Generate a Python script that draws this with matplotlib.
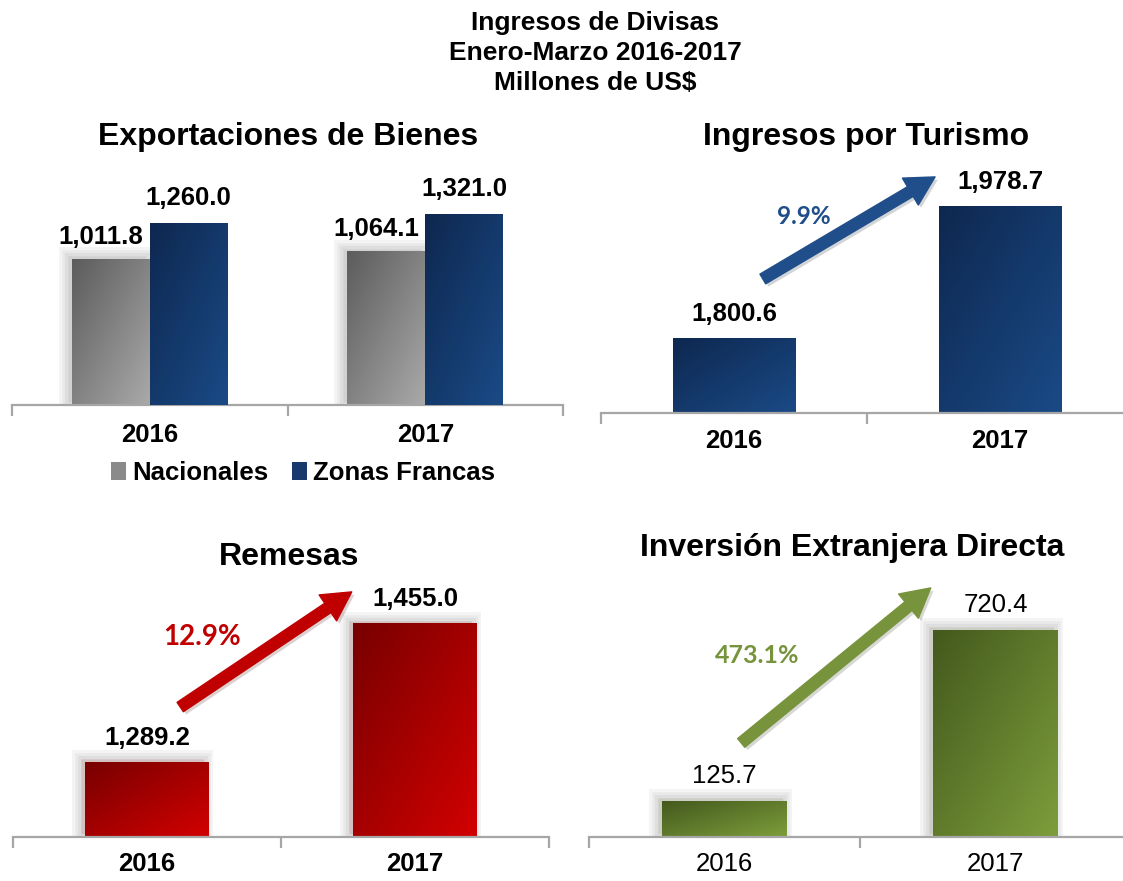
import numpy as np
import matplotlib
matplotlib.use("Agg")
import matplotlib.pyplot as plt
import matplotlib.patheffects as pe
from matplotlib.colors import LinearSegmentedColormap
from matplotlib.patches import Patch

plt.rcParams['font.family'] = ['Liberation Sans', 'DejaVu Sans']

# ---- data ----
years = ['2016', '2017']
export_nacionales = [1011.8, 1064.1]
export_zonas_francas = [1260.0, 1321.0]
turismo = [1800.6, 1978.7]
remesas = [1289.2, 1455.0]
ied = [125.7, 720.4]
pct_turismo = '9.9%'
pct_remesas = '12.9%'
pct_ied = '473.1%'

W, H = 1123, 881
fig = plt.figure(figsize=(W / 100, H / 100), dpi=100)


def place(left, right, baseline, height):
    # axes placed by pixel positions
    return fig.add_axes([left / W, 1 - baseline / H, (right - left) / W, height / H])


def gradient_fill(ax, bars, c0, c1):
    cmap = LinearSegmentedColormap.from_list('g', [c0, c1])
    xx, yy = np.meshgrid(np.linspace(0, 1, 64), np.linspace(0, 1, 64))
    grad = (xx + yy) / 2.0  # row 0 at top -> dark top-left
    for b in bars:
        x0, y0 = b.get_x(), b.get_y()
        im = ax.imshow(grad, cmap=cmap, extent=[x0, x0 + b.get_width(), y0, y0 + b.get_height()],
                       origin='upper', aspect='auto', zorder=b.get_zorder() + 0.1, interpolation='bilinear')
        im.set_clip_path(b)


def glow():
    effs = [pe.Stroke(offset=(-3, 2), linewidth=lw, foreground='black', alpha=0.045) for lw in (13, 9, 5)]
    return effs + [pe.Normal()]


def style_axis(ax, xmax, ticks, pad, weight):
    for s in ('top', 'left', 'right'):
        ax.spines[s].set_visible(False)
    ax.spines['bottom'].set_color('#A6A6A6')
    ax.spines['bottom'].set_linewidth(1.6)
    ax.set_yticks([])
    ax.set_xlim(-0.5, xmax)
    ax.set_xticks(range(len(years)))
    ax.set_xticklabels(years, fontsize=18.5, fontweight=weight)
    ax.tick_params(axis='x', which='major', length=0, pad=pad)
    ax.set_xticks(ticks, minor=True)
    ax.tick_params(axis='x', which='minor', length=8, width=1.6, color='#A6A6A6')
    ax.patch.set_alpha(0)


def labels(ax, bars, vals, weight='bold', dx=0, dy=24):
    for b, v in zip(bars, vals):
        ax.annotate(f'{v:,.1f}', (b.get_x() + b.get_width() / 2, b.get_height() + b.get_y()),
                    xytext=(dx, dy), textcoords='offset pixels', ha='center', va='center',
                    fontsize=18.5, fontweight=weight, annotation_clip=False)


def arrow(ax, start, end, color, text, tpos, tsize):
    ax.annotate('', xy=end, xytext=start, xycoords='axes fraction', textcoords='axes fraction',
                arrowprops=dict(arrowstyle='simple,head_width=1.25,head_length=1.15,tail_width=0.45',
                                mutation_scale=18, color=color, shrinkA=0, shrinkB=0,
                                path_effects=[pe.SimplePatchShadow(offset=(2, -2), alpha=0.18), pe.Normal()]),
                annotation_clip=False)
    ax.text(tpos[0], tpos[1], text, transform=ax.transAxes, ha='center', va='center',
            fontsize=tsize, fontweight='bold', color=color, family=['Lato', 'DejaVu Sans'])


x = np.arange(len(years))

# ---- Exportaciones de Bienes ----
ax1 = place(12, 563, 405, 245.5)
ax1.set_ylim(0, 1700)
bw = 0.283
b_nac = ax1.bar(x - bw / 2, export_nacionales, bw, color='#8C8C8C', zorder=2)
b_zf = ax1.bar(x + bw / 2, export_zonas_francas, bw, color='#17396B', zorder=3)
for b in b_nac:
    b.set_path_effects(glow())
gradient_fill(ax1, b_nac, '#5C5C5C', '#A9A9A9')
gradient_fill(ax1, b_zf, '#0E2850', '#1A4A86')
labels(ax1, b_nac, export_nacionales, dx=-10, dy=22)
labels(ax1, b_zf, export_zonas_francas, dy=25)
style_axis(ax1, 1.5, [-0.5, 0.5, 1.5], 13, 'bold')
handles = [Patch(facecolor='#8A8A8A', label='Nacionales'), Patch(facecolor='#17396B', label='Zonas Francas')]
fig.legend(handles=handles, loc='center', bbox_to_anchor=(303 / W, 1 - 473 / H), ncol=2,
           frameon=False, handlelength=0.6, handleheight=0.7, handletextpad=0.25, columnspacing=0.9,
           prop=dict(size=18.5, weight='bold'))

# ---- Ingresos por Turismo ----
ax2 = place(601, 1123, 413, 222.3)
ax2.set_ylim(1700, 2000)
b_tur = ax2.bar(x, [v - 1700 for v in turismo], 0.46, bottom=1700, color='#17396B', zorder=2)
gradient_fill(ax2, b_tur, '#0E2850', '#1A4A86')
labels(ax2, b_tur, turismo)
style_axis(ax2, 1.462, [-0.5, 0.5], 11.5, 'bold')
arrow(ax2, (0.310, 0.603), (0.640, 1.062), '#1F4E8A', pct_turismo, (0.389, 0.882), 17.5)

# ---- Remesas ----
ax3 = place(13, 549, 837, 251.4)
ax3.set_ylim(1200, 1500)
b_rem = ax3.bar(x, [v - 1200 for v in remesas], 0.459, bottom=1200, color='#A00000', zorder=2)
for b in b_rem:
    b.set_path_effects(glow())
gradient_fill(ax3, b_rem, '#780000', '#D20000')
labels(ax3, b_rem, remesas)
style_axis(ax3, 1.5, [-0.5, 0.5, 1.5], 11, 'bold')
arrow(ax3, (0.312, 0.517), (0.632, 0.975), '#C00000', pct_remesas, (0.353, 0.796), 20)

# ---- Inversion Extranjera Directa ----
ax4 = place(589, 1123, 837, 230)
ax4.set_ylim(0, 800)
b_ied = ax4.bar(x, ied, 0.461, color='#5E7A2C', zorder=2)
for b in b_ied:
    b.set_path_effects(glow())
gradient_fill(ax4, b_ied, '#43591D', '#7D9D3B')
labels(ax4, b_ied, ied, weight='normal', dy=25)
style_axis(ax4, 1.47, [-0.5, 0.5], 11, 'normal')
arrow(ax4, (0.285, 0.409), (0.640, 1.083), '#77933C', pct_ied, (0.315, 0.787), 18)

# ---- titles ----
for txt, ypx in [('Ingresos de Divisas', 23), ('Enero-Marzo 2016-2017', 53), ('Millones de US$', 83)]:
    fig.text(595 / W, 1 - ypx / H, txt, ha='center', va='center', fontsize=19, fontweight='bold')

for txt, xpx, ypx in [('Exportaciones de Bienes', 288, 137), ('Ingresos por Turismo', 866, 137),
                      ('Remesas', 289, 557), ('Inversión Extranjera Directa', 852, 548)]:
    fig.text(xpx / W, 1 - ypx / H, txt, ha='center', va='center', fontsize=23, fontweight='bold')

fig.savefig('out.png', dpi=100)
